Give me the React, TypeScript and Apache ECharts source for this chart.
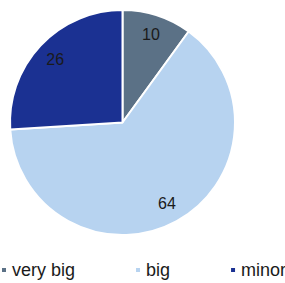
import React, { useEffect, useRef } from "react";
import * as echarts from "echarts";

const categories = ["very big", "big", "minor"];
const values = [10, 64, 26];
const colors = ["#5b7186", "#b7d3f0", "#1b3192"];

export default function App() {
  const ref = useRef<HTMLDivElement>(null);
  useEffect(() => {
    const chart = echarts.init(ref.current!, undefined, { renderer: "svg" });
    const data = categories.map((name, i) => ({
      name,
      value: values[i],
      itemStyle: { color: colors[i] },
    }));
    chart.setOption({
      animation: false,
      textStyle: { fontFamily: "Liberation Sans, Arial, sans-serif" },
      legend: {
        data: categories,
        left: 0,
        top: 261,
        width: 400,
        padding: 0,
        itemWidth: 6,
        itemHeight: 6,
        itemGap: 59,
        icon: "rect",
        textStyle: { fontSize: 18, color: "#1a1a1a", fontFamily: "Liberation Sans, Arial, sans-serif" },
      },
      series: [
        {
          type: "pie",
          center: [122.5, 122.5],
          radius: [0, 112.5],
          startAngle: 90,
          clockwise: true,
          silent: true,
          label: { show: false },
          labelLine: { show: false },
          itemStyle: { borderColor: "#ffffff", borderWidth: 2 },
          data,
        },
        {
          type: "pie",
          center: [122.5, 122.5],
          radius: [66, 112.5],
          startAngle: 90,
          clockwise: true,
          silent: true,
          label: {
            show: true,
            position: "inside",
            formatter: "{c}",
            fontSize: 16,
            color: "#1a1a1a",
            fontFamily: "Liberation Sans, Arial, sans-serif",
          },
          labelLine: { show: false },
          itemStyle: { color: "rgba(0,0,0,0)", borderWidth: 0 },
          data: categories.map((name, i) => ({ name, value: values[i] })),
        },
      ],
    });
    return () => chart.dispose();
  }, []);
  return (
    <div
      ref={ref}
      style={{ position: "fixed", left: 0, top: 0, width: 285, height: 283, background: "#fff" }}
    />
  );
}
